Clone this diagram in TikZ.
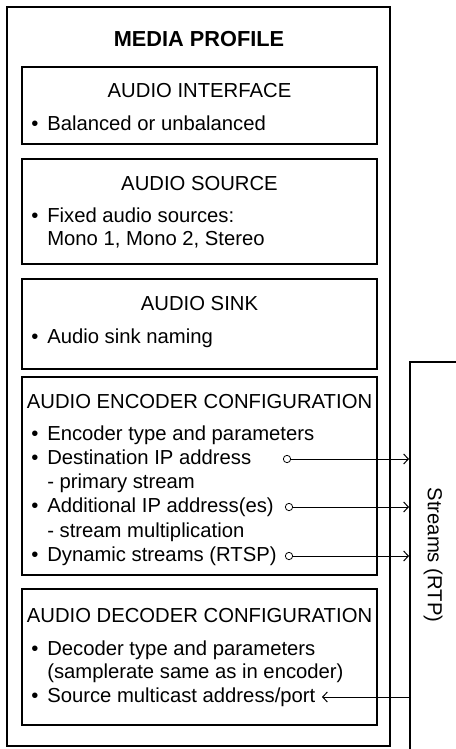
\documentclass[tikz,border=0pt]{standalone}
\usepackage{fontspec}
\setmainfont{Liberation Sans}
\usetikzlibrary{arrows.meta}
\newcommand\bulletitem{\makebox[12pt][l]{•}}
\begin{document}
\begin{tikzpicture}[x=0.75pt,y=-0.75pt,
  frame/.style={draw=black,line width=1.6pt},
  section/.style={draw=black,line width=1.1pt},
  txt/.style={font=\fontsize{15.2}{17.5}\selectfont,inner sep=0pt},
  heading/.style={txt,anchor=base},
  body/.style={txt,anchor=base west},
  port/.style={circle,draw=black,line width=0.6pt,inner sep=0pt,minimum size=5.5pt},
  link/.style={draw=black,line width=0.75pt,-{Straight Barb[length=3.5pt,width=7.5pt,line width=0.75pt]}},
  backlink/.style={draw=black,line width=0.75pt,{Straight Barb[length=3.5pt,width=7.5pt,line width=0.75pt]}-}]
\useasboundingbox (0,0) rectangle (455,749);

% outer profile frame
\draw[frame] (7,7) rectangle (390,746);
\node[heading,font=\fontsize{16.3}{18}\selectfont\bfseries] (title) at (199,47) {MEDIA PROFILE};

% audio interface
\draw[section] (22,67) rectangle (377,144);
\node[heading] (ifhead) at (199.5,98) {AUDIO INTERFACE};
\node[body] (if1) at (31,130) {\bulletitem Balanced or unbalanced};

% audio source
\draw[section] (22,159) rectangle (377,264);
\node[heading] (srchead) at (199.5,190) {AUDIO SOURCE};
\node[body] (src1) at (31,222) {\bulletitem Fixed audio sources:};
\node[body] (src2) at (47,245) {Mono 1, Mono 2, Stereo};

% audio sink
\draw[section] (22,279) rectangle (377,369);
\node[heading] (sinkhead) at (199.5,310) {AUDIO SINK};
\node[body] (sink1) at (31,343) {\bulletitem Audio sink naming};

% audio encoder configuration
\draw[section] (22,377) rectangle (377,575);
\node[heading] (enchead) at (199.5,408) {AUDIO ENCODER CONFIGURATION};
\node[body] (enc1) at (31,440) {\bulletitem Encoder type and parameters};
\node[body] (enc2) at (31,464) {\bulletitem Destination IP address};
\node[body] (enc3) at (47,488) {- primary stream};
\node[body] (enc4) at (31,512) {\bulletitem Additional IP address(es)};
\node[body] (enc5) at (47,537) {- stream multiplication};
\node[body] (enc6) at (31,561) {\bulletitem Dynamic streams (RTSP)};

% audio decoder configuration
\draw[section] (22,589) rectangle (377,725);
\node[heading] (dechead) at (199.5,622) {AUDIO DECODER CONFIGURATION};
\node[body] (dec1) at (31,655) {\bulletitem Decoder type and parameters};
\node[body] (dec2) at (47,678) {(samplerate same as in encoder)};
\node[body] (dec3) at (31,702) {\bulletitem Source multicast address/port};

% streams (RTP) box, open towards the right and the bottom
\draw[frame] (458,362) -- (410,362) -- (410,752);
\node[txt,rotate=-90] (streams) at (433,555) {Streams (RTP)};

% stream ports and connectors
\node[port] (p1) at (287,459) {};
\node[port] (p2) at (289,507) {};
\node[port] (p3) at (289,556) {};
\coordinate (s1) at (409,459);
\coordinate (s2) at (409,507);
\coordinate (s3) at (409,556);
\coordinate (s4) at (410,697);
\coordinate (d4) at (322,697);
\draw[link] (p1) -- (s1);
\draw[link] (p2) -- (s2);
\draw[link] (p3) -- (s3);
\draw[backlink] (d4) -- (s4);
\end{tikzpicture}
\end{document}
